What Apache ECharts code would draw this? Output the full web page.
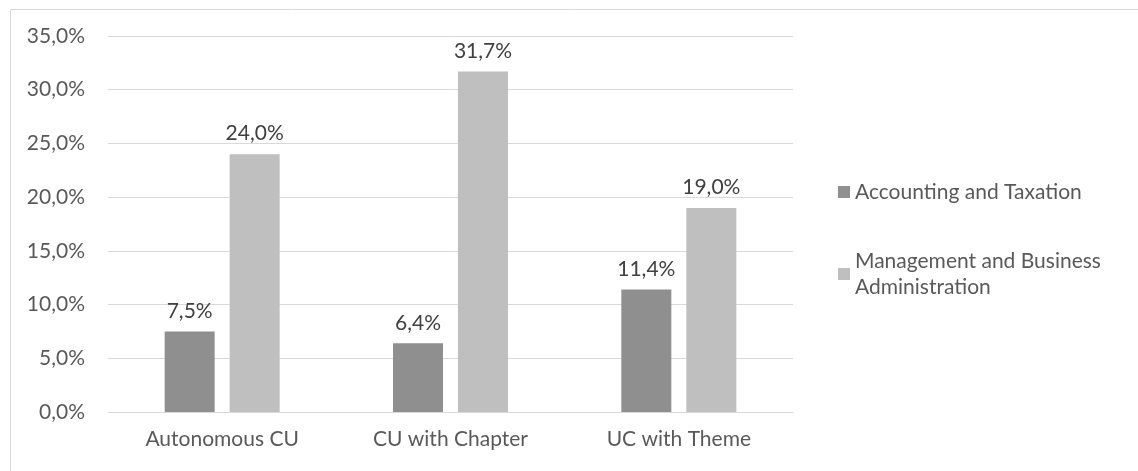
<!DOCTYPE html>
<html>
<head>
<meta charset="utf-8">
<script src="https://cdn.jsdelivr.net/npm/echarts@6/dist/echarts.min.js"></script>
<style>
html,body{margin:0;padding:0;background:#fff;}
#chart{width:1138px;height:471px;}
</style>
</head>
<body>
<div id="chart"></div>
<script>
const categories = ["Autonomous CU", "CU with Chapter", "UC with Theme"];
const seriesNames = ["Accounting and Taxation", "Management and Business Administration"];
const accounting = [7.5, 6.4, 11.4];
const management = [24.0, 31.7, 19.0];
const yTicks = { min: 0, max: 35, interval: 5 };

const font = "Lato, 'Open Sans', sans-serif";
const fs = 21;
const fmt = v => v.toFixed(1).replace('.', ',') + '%';

const chart = echarts.init(document.getElementById('chart'));
chart.setOption({
  backgroundColor: '#fff',
  animation: false,
  graphic: [{
    type: 'rect', left: 8, top: 7,
    shape: { width: 1200, height: 500 },
    style: { fill: 'none', stroke: '#d9d9d9', lineWidth: 1 },
    silent: true
  }],
  grid: { left: 108, top: 36, width: 685, height: 376, containLabel: false },
  legend: {
    orient: 'vertical',
    left: 833, top: 174,
    itemWidth: 12, itemHeight: 12,
    itemGap: 43,
    icon: 'rect',
    textStyle: { fontFamily: font, fontSize: fs, color: '#595959', lineHeight: 26 },
    formatter: name => name === seriesNames[1] ? 'Management and Business\nAdministration' : name,
    data: seriesNames
  },
  xAxis: {
    type: 'category',
    data: categories,
    axisLine: { lineStyle: { color: '#d9d9d9', width: 1 } },
    axisTick: { show: false },
    axisLabel: { fontFamily: font, fontSize: fs, color: '#595959', margin: 17 }
  },
  yAxis: {
    type: 'value',
    min: yTicks.min, max: yTicks.max, interval: yTicks.interval,
    axisLine: { show: false },
    axisTick: { show: false },
    splitLine: { lineStyle: { color: '#d9d9d9', width: 1 } },
    axisLabel: { fontFamily: font, fontSize: fs, color: '#595959', margin: 23, formatter: v => fmt(v) }
  },
  series: [
    {
      name: seriesNames[0], type: 'bar', data: accounting,
      itemStyle: { color: '#8f8f8f' },
      barWidth: 50, barGap: '30%',
      label: { show: true, position: 'top', distance: 10, fontFamily: font, fontSize: fs, color: '#404040', formatter: p => fmt(p.value) }
    },
    {
      name: seriesNames[1], type: 'bar', data: management,
      itemStyle: { color: '#bfbfbf' },
      barWidth: 50,
      label: { show: true, position: 'top', distance: 10, fontFamily: font, fontSize: fs, color: '#404040', formatter: p => fmt(p.value) }
    }
  ]
});
</script>
</body>
</html>
